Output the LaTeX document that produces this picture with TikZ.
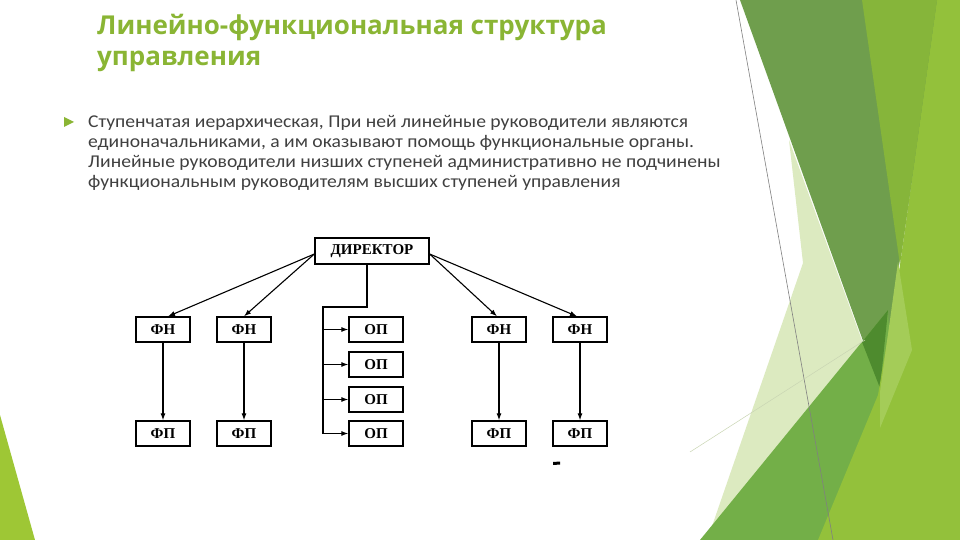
\documentclass[tikz,border=0pt]{standalone}
\usepackage{fontspec}
\setmainfont{Carlito}
\newfontfamily\titlefont{Open Sans}
\newfontfamily\boxfont{Liberation Serif}
\usetikzlibrary{arrows.meta}

\definecolor{titleGreen}{HTML}{8AB534}
\definecolor{bodyGray}{HTML}{404040}
\definecolor{darkBand}{HTML}{6F9E4D}
\definecolor{midGreen}{HTML}{86B53A}
\definecolor{limeGreen}{HTML}{93C13B}
\definecolor{lowGreen}{HTML}{73AF48}
\definecolor{tipGreen}{HTML}{4E8B2E}
\definecolor{paleGreen}{HTML}{DCEAC0}
\definecolor{lightLime}{HTML}{A4CC58}

\tikzset{
  box/.style={draw=black, line width=1.3pt, fill=white, inner sep=0pt,
    minimum width=54pt, minimum height=25pt, font=\boxfont\bfseries\fontsize{15}{15}\selectfont},
  arr/.style={line width=1.1pt, -{Latex[length=7pt,width=5pt]}},
  wire/.style={line width=1.1pt}
}

\begin{document}
\begin{tikzpicture}[x=1pt, y=-1pt]
    % Page frame
    \useasboundingbox (0,0) rectangle (960,540);
    \fill[white] (0,0) rectangle (960,540);

    % Background facets on the right
    \fill[paleGreen] (789,140) -- (803,263) -- (710,532) -- (880,390) -- cycle;
    \fill[darkBand] (740,0) -- (940,0) -- (880,388) -- cycle;
    \fill[lowGreen] (700,540) -- (888,310) -- (900,540) -- cycle;
    \fill[tipGreen] (862,342) -- (888,310) -- (880,388) -- cycle;
    \fill[limeGreen] (937,0) -- (960,0) -- (960,540) -- (818,540) -- (878,395) -- (900,265) -- cycle;
    \fill[midGreen] (862,0) -- (937,0) -- (900,265) -- cycle;
    \fill[lightLime] (898,262) -- (912,350) -- (880,428) -- (880,392) -- cycle;
    \draw[gray, line width=0.6pt] (736,0) -- (833,540);
    \draw[paleGreen!80!gray, line width=0.5pt] (690,452) -- (865,340);

    % Background facet on the left
    \fill[limeGreen!90!yellow] (0,415) -- (35,540) -- (0,540) -- cycle;

    % Title
    \node[anchor=north west, align=left, text=titleGreen, inner sep=0pt,
      font=\titlefont\bfseries\fontsize{26}{31}\selectfont] (title) at (97,14)
      {Линейно-функциональная структура\\управления};

    % Bullet and text
    \fill[titleGreen] (64,117) -- (74,122) -- (64,127) -- cycle;
    \node[anchor=north west, align=left, text=bodyGray, inner sep=0pt,
      font=\addfontfeature{FakeStretch=1.09}\fontsize{18}{20}\selectfont] (body) at (88,115)
      {Ступенчатая иерархическая, При ней линейные руководители являются\\
       единоначальниками, а им оказывают помощь функциональные органы.\\
       Линейные руководители низших ступеней административно не подчинены\\
       функциональным руководителям высших ступеней управления};

    % Boxes
    \node[box, minimum width=114pt, minimum height=26pt, font=\boxfont\bfseries\fontsize{15}{15}\selectfont] (dir) at (372,251) {ДИРЕКТОР};

    \node[box] (fn1) at (163,329.5) {ФН};
    \node[box] (fn2) at (244,329.5) {ФН};
    \node[box] (fn3) at (499,329.5) {ФН};
    \node[box] (fn4) at (580,329.5) {ФН};

    \node[box] (fp1) at (163,433.5) {ФП};
    \node[box] (fp2) at (244,433.5) {ФП};
    \node[box] (fp3) at (499,433.5) {ФП};
    \node[box] (fp4) at (580,433.5) {ФП};

    \node[box] (op1) at (376,329.5) {ОП};
    \node[box] (op2) at (376,364.5) {ОП};
    \node[box] (op3) at (376,399.5) {ОП};
    \node[box] (op4) at (376,433.5) {ОП};

    % Director to the functional heads
    \draw[arr] ([yshift=-3pt]dir.west) -- ([xshift=5pt]fn1.north);
    \draw[arr] ([yshift=-3pt]dir.west) -- (fn2.north);
    \draw[arr] ([yshift=-3pt]dir.east) -- ([xshift=-2pt]fn3.north);
    \draw[arr] ([yshift=-3pt]dir.east) -- ([xshift=-3pt]fn4.north);

    % Heads to their units
    \foreach \i in {1,...,4}
        \draw[arr] (fn\i.south) -- (fp\i.north);

    % Bus to the production units
    \coordinate (busTop) at (323,307);
    \draw[wire] ([xshift=-5pt]dir.south) |- (busTop) -- (busTop |- op4.west);
    \foreach \i in {1,...,4}
        \draw[arr] (busTop |- op\i.west) -- (op\i.west);

    % Mark below the last unit
    \fill (553,462) -- (560,461.5) -- (560,464.5) -- (553,465) -- cycle;

\end{tikzpicture}
\end{document}
